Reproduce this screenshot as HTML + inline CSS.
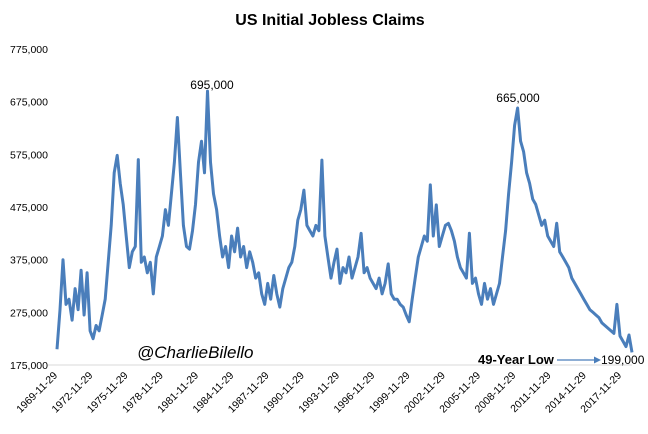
<!DOCTYPE html>
<html><head><meta charset="utf-8"><style>
body{margin:0;background:#fff;}
svg text{font-family:"Liberation Sans",sans-serif;fill:#000;}
</style></head><body>
<svg id="chart" width="648" height="429" viewBox="0 0 648 429" xmlns="http://www.w3.org/2000/svg">
<text x="330" y="25" text-anchor="middle" font-size="16" font-weight="bold">US Initial Jobless Claims</text>
<g id="yaxis"></g>
<g id="xaxis"></g>
<line x1="48" y1="365" x2="632" y2="365" stroke="#d9d9d9" stroke-width="1"/>
<path id="series" fill="none" stroke="#4a7ebb" stroke-width="3" stroke-linejoin="round"/>
<text x="212" y="89" text-anchor="middle" font-size="12">695,000</text>
<text x="518" y="102" text-anchor="middle" font-size="12">665,000</text>
<text x="137" y="358" font-size="17" font-style="italic">@CharlieBilello</text>
<text x="478" y="364" font-size="13" font-weight="bold">49-Year Low</text>
<line x1="557" y1="360" x2="594" y2="360" stroke="#4a7ebb" stroke-width="1.2"/>
<polygon points="594,356.5 601,360 594,363.5" fill="#4a7ebb"/>
<text x="601" y="364" font-size="12">199,000</text>
</svg>
<script>
const yTicks=[175000,275000,375000,475000,575000,675000,775000];
const yTickLabels=["175,000","275,000","375,000","475,000","575,000","675,000","775,000"];
const xTickLabels=["1969-11-29","1972-11-29","1975-11-29","1978-11-29","1981-11-29","1984-11-29","1987-11-29","1990-11-29","1993-11-29","1996-11-29","1999-11-29","2002-11-29","2005-11-29","2008-11-29","2011-11-29","2014-11-29","2017-11-29"];
const claims=[205,280,375,290,300,260,320,280,355,270,350,240,225,250,240,270,300,370,440,540,573,520,480,420,360,390,400,565,370,380,350,370,310,380,400,420,470,440,500,560,645,540,440,400,395,430,480,560,600,540,695,560,500,470,420,380,400,360,420,390,435,380,400,360,390,370,340,350,310,290,330,300,345,310,285,320,340,360,370,400,450,470,507,440,430,420,440,430,564,420,380,340,370,395,330,360,350,380,340,360,380,425,350,360,340,330,320,340,310,330,367,310,300,300,290,285,270,257,300,340,380,400,420,410,517,420,479,400,420,440,444,430,410,380,360,350,340,425,330,340,310,290,330,300,320,290,310,330,380,430,500,560,630,663,600,580,540,520,490,480,460,440,450,420,410,400,444,390,380,370,360,340,330,320,310,300,290,280,275,270,265,255,250,245,240,235,290,230,220,210,232,199];
const X0=57,X1=632,Y0=365,Y1=49;
function y(v){return Y0-(v-175000)/(775000-175000)*(Y0-Y1);}
function x(i){return X0+i*(X1-X0)/(claims.length-1);}
const NS="http://www.w3.org/2000/svg";
const ya=document.getElementById('yaxis');
yTicks.forEach((t,i)=>{const e=document.createElementNS(NS,'text');


e.setAttribute('x',48);e.setAttribute('y',y(t)+4);e.setAttribute('text-anchor','end');e.setAttribute('font-size','10.5');e.textContent=yTickLabels[i];ya.appendChild(e);});
const xa=document.getElementById('xaxis');
xTickLabels.forEach((t,i)=>{const px=58+i*35.25,py=376;const e=document.createElementNS(NS,'text');


e.setAttribute('x',px);e.setAttribute('y',py);e.setAttribute('text-anchor','end');e.setAttribute('font-size','10.5');e.setAttribute('transform','rotate(-45 '+px+' '+py+')');e.textContent=t;xa.appendChild(e);});
document.getElementById('series').setAttribute('d',claims.map((v,i)=>(i?'L':'M')+x(i).toFixed(1)+','+y(v*1000).toFixed(1)).join(''));
</script>
</body></html>
